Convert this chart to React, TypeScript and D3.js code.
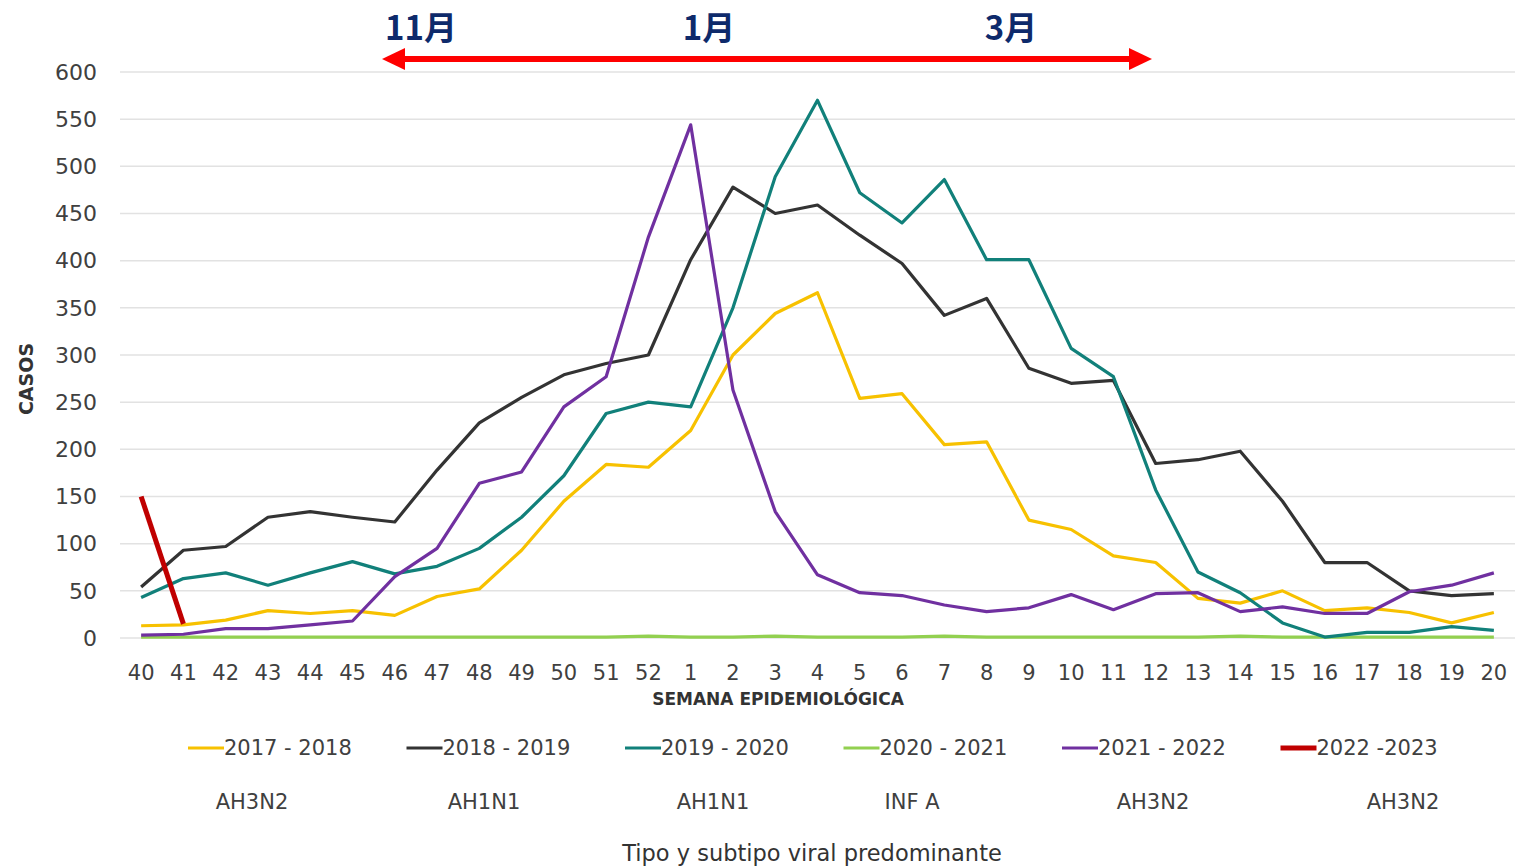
import React, { useEffect, useRef } from "react";
import * as d3 from "d3";

const weeks = [
  "40", "41", "42", "43", "44", "45", "46", "47", "48", "49", "50", "51", "52",
  "1", "2", "3", "4", "5", "6", "7", "8", "9", "10", "11", "12", "13", "14",
  "15", "16", "17", "18", "19", "20",
];

const s2017 = [13, 14, 19, 29, 26, 29, 24, 44, 52, 93, 145, 184, 181, 220, 300, 344, 366, 254, 259, 205, 208, 125, 115, 87, 80, 42, 37, 50, 29, 32, 27, 16, 27];
const s2018 = [54, 93, 97, 128, 134, 128, 123, 178, 228, 255, 279, 291, 300, 401, 478, 450, 459, 427, 397, 342, 360, 286, 270, 273, 185, 189, 198, 145, 80, 80, 50, 45, 47];
const s2019 = [43, 63, 69, 56, 69, 81, 68, 76, 95, 128, 172, 238, 250, 245, 350, 489, 570, 472, 440, 486, 401, 401, 307, 277, 157, 70, 48, 16, 1, 6, 6, 12, 8];
const s2020 = [1, 1, 1, 1, 1, 1, 1, 1, 1, 1, 1, 1, 2, 1, 1, 2, 1, 1, 1, 2, 1, 1, 1, 1, 1, 1, 2, 1, 1, 1, 1, 1, 1];
const s2021 = [3, 4, 10, 10, 14, 18, 65, 95, 164, 176, 245, 277, 425, 544, 263, 134, 67, 48, 45, 35, 28, 32, 46, 30, 47, 48, 28, 33, 26, 26, 49, 56, 69];
const s2022 = [150, 15];

const seriesNames = ["2017 - 2018", "2018 - 2019", "2019 - 2020", "2020 - 2021", "2021 - 2022", "2022 -2023"];
const seriesColors = ["#F7C100", "#333333", "#11807A", "#92D050", "#7030A0", "#C00000"];
const seriesValues = [s2017, s2018, s2019, s2020, s2021, s2022];

const subtypes = ["AH3N2", "AH1N1", "AH1N1", "INF A", "AH3N2", "AH3N2"];
const monthLabels = ["11月", "1月", "3月"];
const yTicks = [0, 50, 100, 150, 200, 250, 300, 350, 400, 450, 500, 550, 600];

const W = 1524;
const H = 868;
const FONT = "'DejaVu Sans', 'Noto Sans', sans-serif";

export default function App() {
  const ref = useRef<SVGSVGElement>(null);

  useEffect(() => {
    const svg = d3.select(ref.current);
    svg.selectAll("*").remove();

    const x = d3.scaleBand<string>().domain(weeks).range([120, 1515]);
    const cx = (w: string) => (x(w) as number) + x.bandwidth() / 2;
    const y = d3.scaleLinear().domain([0, 600]).range([638, 72]);

    // gridlines + y labels
    const g = svg.append("g");
    g.selectAll("line.grid")
      .data(yTicks)
      .enter()
      .append("line")
      .attr("x1", 120)
      .attr("x2", 1515)
      .attr("y1", (d) => y(d))
      .attr("y2", (d) => y(d))
      .attr("stroke", "#e2e2e2")
      .attr("stroke-width", 1.5);
    g.selectAll("text.ylab")
      .data(yTicks)
      .enter()
      .append("text")
      .attr("x", 97)
      .attr("y", (d) => y(d))
      .attr("dy", "0.35em")
      .attr("text-anchor", "end")
      .attr("font-family", FONT)
      .attr("font-size", 22)
      .attr("fill", "#404040")
      .text((d) => d);

    // x labels
    g.selectAll("text.xlab")
      .data(weeks)
      .enter()
      .append("text")
      .attr("x", (d) => cx(d))
      .attr("y", 680)
      .attr("text-anchor", "middle")
      .attr("font-family", FONT)
      .attr("font-size", 21)
      .attr("fill", "#404040")
      .text((d) => d);

    g.append("text")
      .attr("x", 778)
      .attr("y", 705)
      .attr("text-anchor", "middle")
      .attr("font-family", FONT)
      .attr("font-weight", "bold")
      .attr("font-size", 17)
      .attr("fill", "#333")
      .text("SEMANA EPIDEMIOLÓGICA");

    g.append("text")
      .attr("transform", "translate(33,379) rotate(-90)")
      .attr("text-anchor", "middle")
      .attr("font-family", FONT)
      .attr("font-weight", "bold")
      .attr("font-size", 19)
      .attr("fill", "#333")
      .text("CASOS");

    // lines
    const line = d3
      .line<number>()
      .x((_, i) => cx(weeks[i]))
      .y((d) => y(d));
    const order = [3, 0, 1, 2, 4, 5];
    order.forEach((k) => {
      svg
        .append("path")
        .datum(seriesValues[k])
        .attr("d", line)
        .attr("fill", "none")
        .attr("stroke", seriesColors[k])
        .attr("stroke-width", k === 5 ? 5 : 3.2)
        .attr("stroke-linejoin", "round");
    });

    // legend
    const leg = svg.append("g");
    seriesNames.forEach((name, i) => {
      const lx = 188 + i * 218.5;
      leg
        .append("line")
        .attr("x1", lx)
        .attr("x2", lx + 36)
        .attr("y1", 748)
        .attr("y2", 748)
        .attr("stroke", seriesColors[i])
        .attr("stroke-width", i === 5 ? 5 : 3);
      leg
        .append("text")
        .attr("x", lx + 36)
        .attr("y", 748)
        .attr("dy", "0.35em")
        .attr("font-family", FONT)
        .attr("font-size", 21)
        .attr("fill", "#404040")
        .text(name);
    });

    const subX = [252, 484, 713, 912, 1153, 1403];
    subtypes.forEach((s, i) => {
      leg
        .append("text")
        .attr("x", subX[i])
        .attr("y", 802)
        .attr("dy", "0.35em")
        .attr("text-anchor", "middle")
        .attr("font-family", FONT)
        .attr("font-size", 21)
        .attr("fill", "#404040")
        .text(s);
    });

    leg
      .append("text")
      .attr("x", 812)
      .attr("y", 861)
      .attr("text-anchor", "middle")
      .attr("font-family", FONT)
      .attr("font-size", 22.5)
      .attr("fill", "#333")
      .text("Tipo y subtipo viral predominante");

    // month arrow annotation
    const ann = svg.append("g");
    ann
      .append("line")
      .attr("x1", 400)
      .attr("x2", 1134)
      .attr("y1", 59)
      .attr("y2", 59)
      .attr("stroke", "#FF0000")
      .attr("stroke-width", 6);
    ann
      .append("path")
      .attr("d", "M382,59 L405,48 L405,70 Z")
      .attr("fill", "#FF0000");
    ann
      .append("path")
      .attr("d", "M1152,59 L1129,48 L1129,70 Z")
      .attr("fill", "#FF0000");
    const monthX = [421, 709, 1011];
    monthLabels.forEach((m, i) => {
      ann
        .append("text")
        .attr("x", monthX[i])
        .attr("y", 40)
        .attr("text-anchor", "middle")
        .attr("font-family", "'Noto Sans CJK JP', 'Noto Sans', sans-serif")
        .attr("font-weight", "bold")
        .attr("font-size", 33)
        .attr("fill", "#0E2A6B")
        .text(m);
    });
  }, []);

  return (
    <svg
      ref={ref}
      width={W}
      height={H}
      style={{ position: "absolute", left: 0, top: 0, background: "#fff" }}
    />
  );
}
